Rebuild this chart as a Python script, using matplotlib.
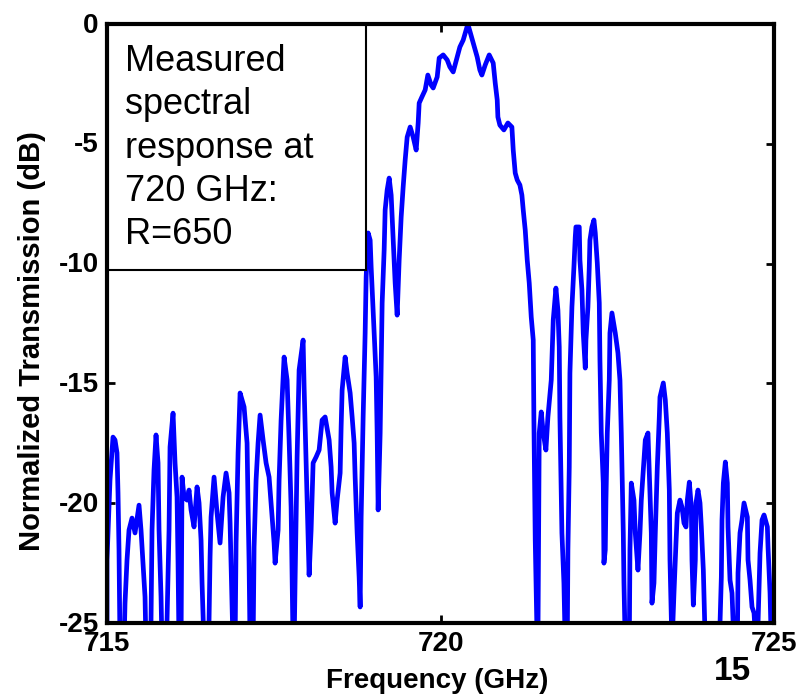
import matplotlib
matplotlib.use('Agg')
import matplotlib.pyplot as plt
import matplotlib.transforms as mtransforms
from matplotlib.patches import Rectangle

REG = 'Liberation Sans'

# Frequency (GHz) and normalized transmission (dB); values below -25 run off the axis
freq = [715.00, 715.00, 715.045, 715.09, 715.12, 715.15, 715.165, 715.18, 715.195, 715.255,
        715.27, 715.30, 715.33, 715.375, 715.42, 715.48, 715.51, 715.54, 715.57, 715.585,
        715.645, 715.66, 715.675, 715.705, 715.735, 715.765, 715.78, 715.81, 715.825, 715.885,
        715.90, 715.93, 715.945, 715.99, 716.02, 716.05, 716.065, 716.08, 716.11, 716.125,
        716.155, 716.20, 716.23, 716.26, 716.305, 716.35, 716.38, 716.41, 716.425, 716.455,
        716.515, 716.53, 716.545, 716.56, 716.605, 716.65, 716.695, 716.74, 716.785, 716.83,
        716.845, 716.86, 716.89, 716.92, 716.935, 716.965, 716.995, 717.025, 717.055, 717.10,
        717.115, 717.13, 717.145, 717.19, 717.205, 717.235, 717.265, 717.295, 717.34, 717.385,
        717.43, 717.475, 717.505, 717.52, 717.565, 717.58, 717.61, 717.655, 717.70, 717.73,
        717.76, 717.775, 717.79, 717.805, 717.82, 717.85, 717.88, 717.94, 717.955, 717.985,
        718.015, 718.03, 718.06, 718.09, 718.135, 718.18, 718.225, 718.27, 718.33, 718.36,
        718.375, 718.42, 718.45, 718.495, 718.51, 718.525, 718.57, 718.60, 718.645, 718.675,
        718.705, 718.72, 718.75, 718.78, 718.795, 718.81, 718.84, 718.87, 718.885, 718.915,
        718.945, 718.96, 719.005, 719.035, 719.05, 719.065, 719.095, 719.11, 719.125, 719.155,
        719.17, 719.20, 719.23, 719.26, 719.29, 719.32, 719.35, 719.38, 719.41, 719.44,
        719.47, 719.50, 719.545, 719.59, 719.635, 719.665, 719.68, 719.72, 719.77, 719.81,
        719.86, 719.89, 719.95, 719.98, 720.04, 720.10, 720.14, 720.19, 720.25, 720.29,
        720.34, 720.41, 720.49, 720.55, 720.59, 720.62, 720.67, 720.73, 720.79, 720.82,
        720.85, 720.86, 720.89, 720.95, 721.01, 721.07, 721.09, 721.12, 721.15, 721.19,
        721.22, 721.24, 721.27, 721.30, 721.33, 721.36, 721.39, 721.40, 721.42, 721.45,
        721.46, 721.48, 721.51, 721.54, 721.58, 721.61, 721.66, 721.69, 721.73, 721.76,
        721.78, 721.79, 721.82, 721.85, 721.87, 721.90, 721.91, 721.93, 721.94, 721.97,
        722.00, 722.02, 722.03, 722.08, 722.09, 722.12, 722.14, 722.17, 722.18, 722.21,
        722.23, 722.24, 722.27, 722.30, 722.32, 722.35, 722.38, 722.39, 722.41, 722.44,
        722.45, 722.47, 722.48, 722.50, 722.53, 722.54, 722.57, 722.62, 722.66, 722.69,
        722.71, 722.74, 722.75, 722.77, 722.83, 722.84, 722.86, 722.90, 722.92, 722.96,
        722.99, 723.01, 723.05, 723.07, 723.11, 723.13, 723.16, 723.17, 723.20, 723.22,
        723.25, 723.28, 723.29, 723.34, 723.37, 723.40, 723.43, 723.44, 723.47, 723.50,
        723.53, 723.55, 723.59, 723.62, 723.65, 723.68, 723.70, 723.73, 723.76, 723.77,
        723.79, 723.82, 723.83, 723.86, 723.89, 723.91, 723.94, 723.97, 724.18, 724.21,
        724.22, 724.24, 724.27, 724.30, 724.31, 724.34, 724.37, 724.40, 724.45, 724.46,
        724.49, 724.52, 724.55, 724.60, 724.61, 724.64, 724.67, 724.70, 724.73, 724.75,
        724.79, 724.82, 724.85, 724.90, 724.91, 724.94, 724.96]

trans = [-26, -22.37, -19.03, -17.24, -17.36, -17.90, -19.57, -21.95, -26, -26,
         -24.17, -22.37, -21.12, -20.62, -21.24, -20.08, -21.12, -22.50, -23.91, -26,
         -26, -24.87, -21.12, -18.61, -17.15, -18.32, -21.12, -23.91, -26, -26,
         -24.87, -21.12, -17.65, -16.24, -18.32, -19.74, -22.50, -26, -26, -18.91,
         -19.74, -19.87, -19.45, -20.28, -20.99, -19.32, -19.99, -21.54, -23.33, -26,
         -26, -24.87, -22.25, -20.58, -18.91, -20.41, -21.66, -19.74, -18.74, -19.57,
         -20.83, -22.50, -26, -26, -21.66, -17.90, -15.40, -15.69, -15.98, -17.49,
         -20.16, -22.50, -26, -26, -21.83, -19.03, -17.49, -16.32, -17.36, -18.32,
         -18.91, -20.58, -21.66, -22.50, -21.12, -19.03, -16.53, -13.90, -14.86, -17.36,
         -20.16, -23.21, -26, -26, -23.21, -18.07, -14.44, -13.19, -15.15, -18.32,
         -21.41, -23.00, -21.12, -18.32, -18.07, -17.78, -16.53, -16.40, -17.36, -18.49,
         -19.57, -20.83, -19.87, -18.74, -16.82, -15.28, -13.90, -14.57, -15.40, -16.40,
         -17.49, -18.91, -21.24, -23.08, -24.33, -20.58, -16.40, -12.90, -10.56, -8.72,
         -9.02, -10.14, -12.90, -14.73, -17.07, -20.28, -17.07, -14.32, -11.64, -9.43,
         -7.76, -6.93, -6.43, -7.14, -9.02, -10.81, -12.15, -9.85, -8.06, -6.80,
         -5.68, -4.72, -4.30, -4.72, -5.26, -4.13, -3.30, -3.05, -2.75, -2.13,
         -2.55, -2.67, -2.21, -1.42, -1.29, -1.50, -1.79, -2.00, -1.38, -0.96,
         -0.67, 0.0, -0.79, -1.38, -1.92, -2.13, -1.71, -1.29, -1.63, -2.46,
         -3.17, -3.88, -4.22, -4.42, -4.13, -4.30, -5.26, -6.22, -6.51, -6.72,
         -7.14, -7.76, -8.60, -9.85, -10.81, -12.23, -13.19, -16.53, -21.54, -26,
         -26, -17.07, -16.19, -17.07, -17.78, -16.40, -14.86, -12.35, -11.02, -11.94,
         -13.48, -16.40, -21.24, -23.33, -26, -26, -21.95, -18.49, -14.57, -11.81,
         -10.14, -8.89, -8.47, -8.47, -9.85, -11.10, -12.90, -14.36, -13.19, -11.81,
         -10.14, -9.02, -8.47, -8.18, -8.72, -9.97, -11.64, -14.02, -17.07, -19.16,
         -22.50, -21.95, -19.87, -17.07, -14.86, -12.90, -12.06, -12.90, -13.73, -14.86,
         -17.07, -21.24, -23.33, -26, -26, -21.95, -19.16, -19.87, -21.24, -22.79,
         -21.24, -19.87, -18.20, -17.36, -17.07, -18.74, -21.24, -24.17, -23.33, -21.24,
         -18.49, -16.40, -15.57, -14.98, -15.69, -17.07, -19.45, -22.37, -26, -23.75,
         -21.66, -20.41, -19.87, -20.16, -20.83, -20.99, -19.87, -19.12, -20.16, -22.37,
         -24.25, -22.37, -19.99, -19.45, -19.99, -20.99, -22.79, -26, -26, -23.08,
         -20.70, -19.16, -18.28, -19.16, -20.99, -23.21, -23.75, -26, -26, -22.91,
         -21.24, -20.70, -19.99, -20.58, -22.37, -23.21, -24.33, -24.58, -26, -26,
         -22.08, -20.70, -20.49, -20.99, -21.83, -23.75, -26]

xticks = [715, 720, 725]
yticks = [0, -5, -10, -15, -20, -25]
box_text = "Measured\nspectral\nresponse at\n720 GHz:\nR=650"
x_label = "Frequency (GHz)"
y_label = "Normalized Transmission (dB)"
slide_no = "15"

fig = plt.figure(figsize=(8.1, 6.98), dpi=100)
ax = fig.add_axes([0.1321, 0.1074, 0.8235, 0.8582])
ax.plot(freq, trans, color='#0000ff', lw=3.4, solid_joinstyle='round', solid_capstyle='round', zorder=2)
ax.set_xlim(715, 725)
ax.set_ylim(-25, 0)

for s in ax.spines.values():
    s.set_linewidth(3)
    s.set_zorder(5)

ax.set_xticks(xticks)
ax.set_yticks(yticks)
ax.set_xticklabels([str(t) for t in xticks])
ax.set_yticklabels([str(t) for t in yticks])
for lab in ax.get_xticklabels() + ax.get_yticklabels():
    lab.set_fontfamily(REG)
    lab.set_fontweight('bold')
    lab.set_fontsize(20)
ax.tick_params(direction='in', length=6, width=2, top=True, right=True)
ax.tick_params(axis='x', pad=6)
ax.tick_params(axis='y', pad=6)
up = mtransforms.ScaledTranslation(0, 1 / 72, fig.dpi_scale_trans)
for lab in ax.get_yticklabels():
    lab.set_verticalalignment('center_baseline')
    lab.set_transform(lab.get_transform() + up)

# annotation box in the top-left corner
ax.add_patch(Rectangle((0, 0.589), 0.388, 0.411, transform=ax.transAxes,
                       facecolor='white', edgecolor='black', lw=1.5, zorder=3))
ax.text(0.027, 0.966, box_text, transform=ax.transAxes, va='top', ha='left',
        fontsize=26, family=REG, linespacing=1.3, zorder=4)

fig.text(437 / 810, 1 - 681 / 698, x_label, ha='center', va='center',
         family=REG, fontweight='bold', fontsize=20)
fig.text(32 / 810, 1 - 341 / 698, y_label, ha='center', va='center', rotation=90,
         family=REG, fontweight='bold', fontsize=21)
fig.text(732 / 810, 1 - 672 / 698, slide_no, ha='center', va='center',
         family=REG, fontweight='bold', fontsize=24)

fig.savefig('out.png', dpi=100)
